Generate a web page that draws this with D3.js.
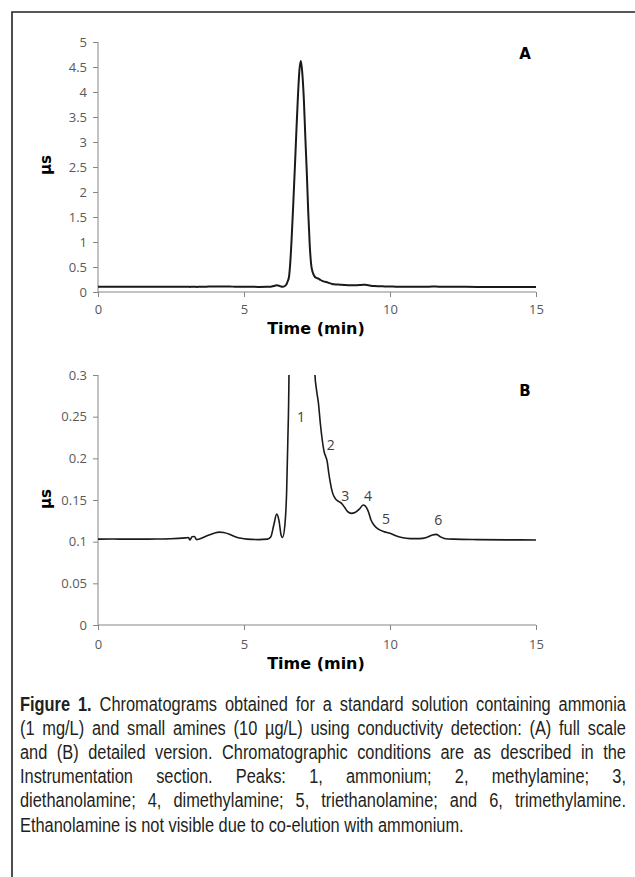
<!DOCTYPE html>
<html>
<head>
<meta charset="utf-8">
<script src="https://cdn.jsdelivr.net/npm/d3@7"></script>
<style>
  body { margin: 0; background: #fff; }
  svg { display: block; }
</style>
</head>
<body>
<svg id="fig" width="635" height="877"></svg>
<script>
// chromatogram (same run shown twice: full scale and zoomed)
const times = [0, 0.5, 1, 2, 2.5, 3.0, 3.1, 3.15, 3.22, 3.3, 3.38, 3.45, 3.6, 3.8, 4.0, 4.15, 4.3, 4.5, 4.7, 4.9, 5.1, 5.5, 5.8,
  5.92, 6.02, 6.12, 6.2, 6.27, 6.32, 6.4, 6.46, 6.5, 6.54, 6.58, 6.63, 6.69, 6.75, 6.8, 6.85, 6.9, 6.95, 7.0, 7.05, 7.1,
  7.15, 7.2, 7.25, 7.3, 7.35, 7.43, 7.48, 7.55, 7.62, 7.68, 7.75, 7.8, 7.85, 7.9, 7.95, 8.02, 8.12, 8.25, 8.34, 8.45,
  8.55, 8.68, 8.8, 8.95, 9.08, 9.15, 9.26, 9.35, 9.45, 9.6, 9.8, 10.0, 10.2, 10.4, 10.7, 11.0, 11.25, 11.45, 11.58,
  11.72, 11.9, 12.2, 13, 14, 15];
const signal = [0.103, 0.1032, 0.103, 0.1032, 0.1035, 0.1045, 0.1048, 0.102, 0.106, 0.1062, 0.1025, 0.103, 0.105, 0.108,
  0.1105, 0.1115, 0.111, 0.109, 0.106, 0.104, 0.103, 0.1025, 0.103,
  0.106, 0.12, 0.133, 0.125, 0.108, 0.105, 0.12, 0.16, 0.22, 0.30, 0.55, 1.05, 1.8, 2.6, 3.3, 3.95, 4.45, 4.62, 4.35, 3.85, 3.1,
  2.4, 1.6, 0.95, 0.55, 0.4, 0.30, 0.283, 0.266, 0.24, 0.222, 0.207, 0.202, 0.196, 0.183, 0.172, 0.16, 0.152, 0.148, 0.146, 0.141,
  0.136, 0.134, 0.135, 0.139, 0.144, 0.143, 0.136, 0.126, 0.120, 0.115, 0.112, 0.110, 0.107, 0.105, 0.1037, 0.1036, 0.105, 0.108, 0.1088,
  0.106, 0.1035, 0.103, 0.1025, 0.1022, 0.102];

const xTicks = [0, 5, 10, 15];
const yTicksA = [0, 0.5, 1, 1.5, 2, 2.5, 3, 3.5, 4, 4.5, 5];
const yTicksB = [0, 0.05, 0.1, 0.15, 0.2, 0.25, 0.3];

// peak numbers in panel B, placed in data units
const peakNames = ["1", "2", "3", "4", "5", "6"];
const peakTimes = [6.95, 7.97, 8.47, 9.25, 9.86, 11.65];
const peakLevels = [0.25, 0.216, 0.155, 0.155, 0.127, 0.126];

const captionLines = [
  "Figure 1. Chromatograms obtained for a standard solution containing ammonia",
  "(1 mg/L) and small amines (10 \u00b5g/L) using conductivity detection: (A) full scale",
  "and (B) detailed version. Chromatographic conditions are as described in the",
  "Instrumentation section. Peaks: 1, ammonium; 2, methylamine; 3,",
  "diethanolamine; 4, dimethylamine; 5, triethanolamine; and 6, trimethylamine.",
  "Ethanolamine is not visible due to co-elution with ammonium."
];

const svg = d3.select("#fig");
const data = times.map((t, i) => ({ t, v: signal[i] }));

svg.append("rect").attr("width", 635).attr("height", 877).attr("fill", "#fff");
// frame (left + top edges visible)
svg.append("path").attr("d", "M12,877V12H635").attr("fill", "none").attr("stroke", "#222").attr("stroke-width", 1.6);

const x = d3.scaleLinear().domain([0, 15]).range([98, 536]);

function panel(opts) {
  const y = d3.scaleLinear().domain(opts.yDomain).range([opts.bottom, opts.top]);
  const g = svg.append("g");

  const yAxis = g.append("g").attr("transform", "translate(98,0)")
    .call(d3.axisLeft(y).tickValues(opts.yTicks).tickSize(5).tickPadding(6)
      .tickFormat(d => String(+d.toFixed(2))));
  const xAxis = g.append("g").attr("transform", `translate(0,${opts.bottom})`)
    .call(d3.axisBottom(x).tickValues(xTicks).tickSize(5).tickPadding(opts.xPad));
  [yAxis, xAxis].forEach(a => {
    a.select(".domain").attr("stroke", "#868686").attr("d", a === yAxis
      ? `M0,${opts.bottom}V${opts.top}` : "M98,0H536");
    a.selectAll(".tick line").attr("stroke", "#868686");
    a.selectAll(".tick text").attr("fill", "#595959").attr("font-size", 13)
      .attr("font-family", "'Open Sans', sans-serif");
  });

  const clipId = "clip" + opts.name;
  svg.append("clipPath").attr("id", clipId).append("rect")
    .attr("x", 98).attr("y", opts.top).attr("width", 440).attr("height", opts.bottom - opts.top);

  const line = d3.line().x(d => x(d.t)).y(d => y(d.v)).curve(d3.curveMonotoneX);
  g.append("path").datum(data).attr("d", line).attr("clip-path", `url(#${clipId})`)
    .attr("fill", "none").attr("stroke", "#1a1a1a").attr("stroke-width", opts.lw).attr("stroke-linejoin", "round");

  g.append("text").attr("x", 316).attr("y", opts.titleY).attr("text-anchor", "middle")
    .attr("font-family", "'DejaVu Sans', sans-serif").attr("font-weight", "bold").attr("font-size", 16)
    .text("Time (min)");
  g.append("text").attr("transform", `translate(51,${opts.labelY}) rotate(-90)`).attr("text-anchor", "middle")
    .attr("font-family", "'DejaVu Sans', sans-serif").attr("font-weight", "bold").attr("font-size", 15)
    .text("\u00b5s");
  g.append("text").attr("x", 525).attr("y", opts.letterY).attr("text-anchor", "middle")
    .attr("font-family", "'DejaVu Sans', sans-serif").attr("font-weight", "bold").attr("font-size", 15)
    .text(opts.name);
  return { g, y };
}

panel({ name: "A", yDomain: [0, 5], yTicks: yTicksA, top: 42, bottom: 292, xPad: 8, lw: 2,
  titleY: 334, labelY: 165, letterY: 59 });
const pB = panel({ name: "B", yDomain: [0, 0.3], yTicks: yTicksB, top: 375, bottom: 625, xPad: 10, lw: 1.6,
  titleY: 669, labelY: 499, letterY: 396 });

pB.g.selectAll(".peak").data(peakNames).enter().append("text")
  .attr("x", (d, i) => x(peakTimes[i])).attr("y", (d, i) => pB.y(peakLevels[i]))
  .attr("dy", "0.35em").attr("text-anchor", "middle")
  .attr("font-family", "'Open Sans', sans-serif").attr("font-size", 14).attr("fill", "#404040")
  .text(d => d);

// caption, justified word by word in a condensed face
const cap = svg.append("g").attr("font-family", "'Liberation Sans Narrow', 'Arial Narrow', sans-serif")
  .attr("font-size", 19.5).attr("fill", "#231f20");
const left = 20, right = 626, baseY = 711, pitch = 24.1;

const probe = cap.append("text").text("nn");
const nn = probe.node().getComputedTextLength();
probe.text("n n");
const space = probe.node().getComputedTextLength() - nn;
probe.remove();

const rows = captionLines.map((line, i) => {
  const words = line.split(" ");
  const nodes = words.map((w, j) => cap.append("text").attr("y", baseY + i * pitch)
    .attr("font-weight", i === 0 && j < 2 ? "bold" : null).text(w));
  const widths = nodes.map(n => n.node().getComputedTextLength());
  return { nodes, widths };
});
// squeeze glyphs so the first line fills the measure with slightly loose spaces
const firstRow = rows[0];
const k = 0.95 * (right - left) / (d3.sum(firstRow.widths) + space * (firstRow.widths.length - 1));

rows.forEach((row, i) => {
  const scaled = row.widths.map(w => w * k);
  const justify = i < rows.length - 1;
  const gap = justify ? (right - left - d3.sum(scaled)) / (scaled.length - 1) : space * k;
  let cx = left;
  row.nodes.forEach((n, j) => {
    n.attr("x", cx).attr("textLength", scaled[j]).attr("lengthAdjust", "spacingAndGlyphs");
    cx += scaled[j] + gap;
  });
});
</script>
</body>
</html>
